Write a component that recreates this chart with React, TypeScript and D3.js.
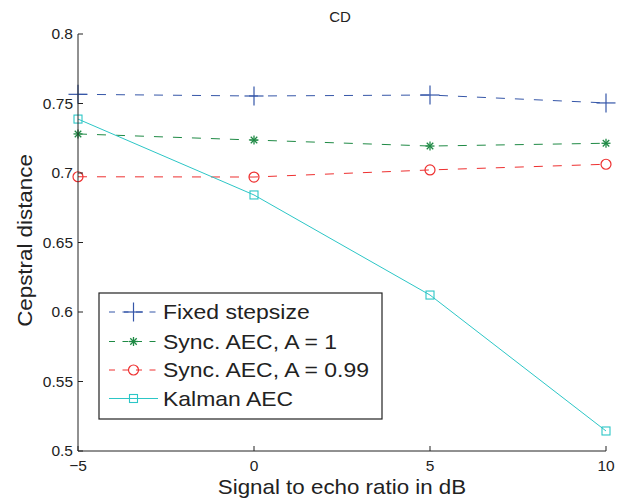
import React from "react";
import * as d3 from "d3";

const snr = [-5, 0, 5, 10];
const fixedStep = [0.7566, 0.7554, 0.7561, 0.7504];
const syncA1 = [0.7281, 0.7237, 0.7194, 0.7214];
const syncA099 = [0.6973, 0.6971, 0.7022, 0.7063];
const kalman = [0.7388, 0.6842, 0.6122, 0.5144];
const xTicks = [-5, 0, 5, 10];
const yTicks = [0.5, 0.55, 0.6, 0.65, 0.7, 0.75, 0.8];
const seriesNames = ["Fixed stepsize", "Sync. AEC, A = 1", "Sync. AEC, A = 0.99", "Kalman AEC"];

const W = 617, H = 502;
const L = 78, R = 606, T = 34, B = 451;
const FONT = "'Liberation Sans', Arial, Helvetica, sans-serif";
const SX = 1.09;
const SXL = 1.12;

type Marker = "plus" | "star" | "circle" | "square";
const series = [
  { name: seriesNames[0], values: fixedStep, color: "#3556a8", dash: "9,10", marker: "plus" as Marker },
  { name: seriesNames[1], values: syncA1, color: "#1f8a45", dash: "9,10", marker: "star" as Marker },
  { name: seriesNames[2], values: syncA099, color: "#ee3030", dash: "9,10", marker: "circle" as Marker },
  { name: seriesNames[3], values: kalman, color: "#2cc6c6", dash: "none", marker: "square" as Marker },
];

function MarkerShape({ type, x, y, color }: { type: Marker; x: number; y: number; color: string }) {
  if (type === "plus") {
    return (
      <g stroke={color} strokeWidth={1.2}>
        <line x1={x - 9.5} y1={y} x2={x + 9.5} y2={y} />
        <line x1={x} y1={y - 9.5} x2={x} y2={y + 9.5} />
      </g>
    );
  }
  if (type === "star") {
    const r = 4.5;
    const d = r * 0.72;
    return (
      <g stroke={color} strokeWidth={1.3}>
        <line x1={x - r} y1={y} x2={x + r} y2={y} />
        <line x1={x} y1={y - r} x2={x} y2={y + r} />
        <line x1={x - d} y1={y - d} x2={x + d} y2={y + d} />
        <line x1={x - d} y1={y + d} x2={x + d} y2={y - d} />
      </g>
    );
  }
  if (type === "circle") {
    return <circle cx={x} cy={y} r={5} fill="none" stroke={color} strokeWidth={1.2} />;
  }
  return <rect x={x - 4} y={y - 4} width={8} height={8} fill="none" stroke={color} strokeWidth={1.1} />;
}

export default function App() {
  const xs = d3.scaleLinear().domain([-5, 10]).range([L, R]);
  const ys = d3.scaleLinear().domain([0.5, 0.8]).range([B, T]);
  const line = d3.line<number>().x((_, i) => xs(snr[i])).y((v) => ys(v));

  const legX = 99, legY = 293, legW = 283, legH = 126;
  const rowY = [312, 341.5, 370, 398.5];

  return (
    <svg width={W} height={H} style={{ position: "absolute", left: 0, top: 0, background: "#fff" }} fontFamily={FONT}>
      <rect x={0} y={0} width={W} height={H} fill="#fff" />
      <text x={340} y={22} textAnchor="middle" fontSize={15} fill="#222">CD</text>

      {series.map((s) => (
        <g key={s.name}>
          <path d={line(s.values) || ""} fill="none" stroke={s.color} strokeWidth={1} strokeDasharray={s.dash} />
          {s.values.map((v, i) => (
            <MarkerShape key={i} type={s.marker} x={xs(snr[i])} y={ys(v)} color={s.color} />
          ))}
        </g>
      ))}

      {/* axes */}
      <line x1={L} y1={T} x2={L} y2={B} stroke="#222" strokeWidth={1} />
      <line x1={L} y1={B} x2={R} y2={B} stroke="#222" strokeWidth={1} />
      {yTicks.map((t) => (
        <g key={t}>
          <line x1={L} y1={ys(t)} x2={L + 5} y2={ys(t)} stroke="#222" />
          <text x={L - 5} y={ys(t)} dy="0.35em" textAnchor="end" fontSize={15.5} fill="#222">{String(t)}</text>
        </g>
      ))}
      {xTicks.map((t) => (
        <g key={t}>
          <line x1={xs(t)} y1={B} x2={xs(t)} y2={B - 5} stroke="#222" />
          <text x={xs(t)} y={B + 20} textAnchor="middle" fontSize={15.5} fill="#222">{t < 0 ? "\u2212" + Math.abs(t) : String(t)}</text>
        </g>
      ))}

      <text transform={`translate(342,494) scale(${SX},1)`} textAnchor="middle" fontSize={20.5} fill="#222">Signal to echo ratio in dB</text>
      <text transform={`translate(32,240.5) rotate(-90) scale(${SX},1)`} textAnchor="middle" fontSize={20.5} fill="#222">Cepstral distance</text>

      {/* legend */}
      <rect x={legX} y={legY} width={legW} height={legH} fill="#fff" stroke="#222" strokeWidth={1.2} />
      {series.map((s, i) => (
        <g key={s.name}>
          <line x1={109} y1={rowY[i]} x2={158} y2={rowY[i]} stroke={s.color} strokeWidth={1} strokeDasharray={s.dash === "none" ? "none" : "6,7.5"} />
          <MarkerShape type={s.marker} x={133.5} y={rowY[i]} color={s.color} />
          <text transform={`translate(163,${rowY[i]}) scale(${SXL},1)`} dy="0.36em" fontSize={20.5} fill="#222">{s.name}</text>
        </g>
      ))}
    </svg>
  );
}
